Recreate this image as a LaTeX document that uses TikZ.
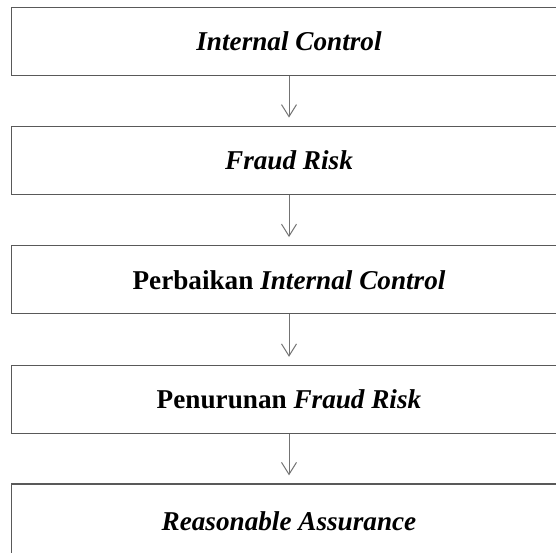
\documentclass[tikz,border=0pt]{standalone}
\usepackage{fontspec}
\setmainfont{Liberation Serif}
\usetikzlibrary{arrows.meta}
\tikzset{
  flowbox/.style={draw=black!65, line width=1.4pt, rectangle, minimum width=555pt, minimum height=68pt, inner sep=0pt, font=\fontsize{27.2}{31}\selectfont\bfseries},
  flowarrow/.style={draw=black!55, line width=1pt, -{Straight Barb[length=12pt,width=15pt,line width=1pt]}, shorten >=8pt}
}
\begin{document}
\begin{tikzpicture}[x=1pt,y=1pt]
\useasboundingbox (0,0) rectangle (556,552);
\clip (0,0) rectangle (556,552);
\fill[white] (0,0) rectangle (556,552);
\node[flowbox] (b1) at (289,510.75) {\textit{Internal Control}};
\node[flowbox] (b2) at (289,391.75) {\textit{Fraud Risk}};
\node[flowbox] (b3) at (289,272.25) {Perbaikan \textit{Internal Control}};
\node[flowbox] (b4) at (289,152.5) {Penurunan \textit{Fraud Risk}};
\node[flowbox, minimum height=80pt] (b5) at (289,28) {\raisebox{6pt}{\textit{Reasonable Assurance}}};
\draw[flowarrow] (b1) -- (b2);
\draw[flowarrow] (b2) -- (b3);
\draw[flowarrow] (b3) -- (b4);
\draw[flowarrow] (b4) -- (b5);
\end{tikzpicture}
\end{document}
